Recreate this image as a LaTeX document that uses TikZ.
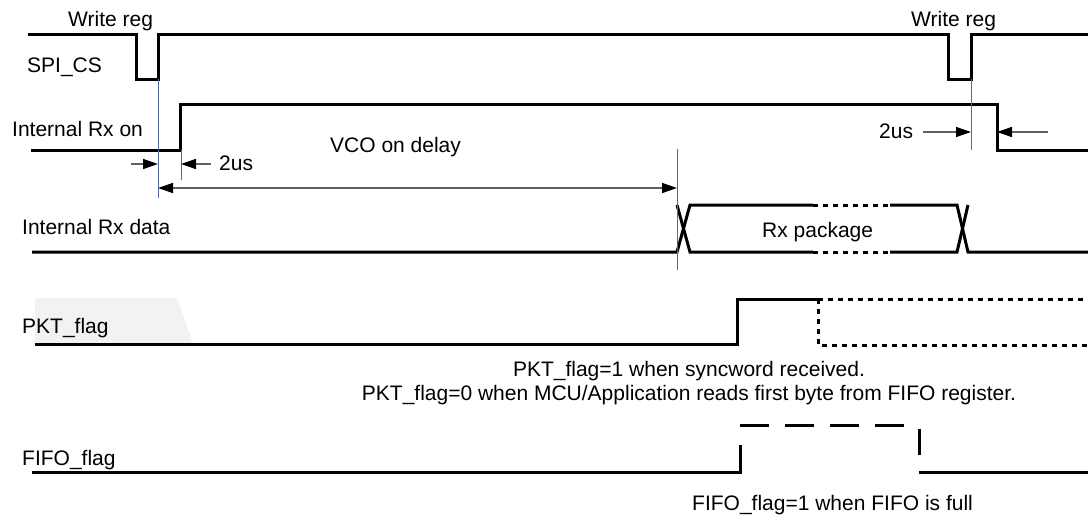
\documentclass[tikz,border=0pt]{standalone}
\usepackage{fontspec}
\setmainfont{Liberation Sans}
\usetikzlibrary{arrows.meta}
\definecolor{guideblue}{HTML}{4F6D9C}
\definecolor{dimgray}{HTML}{606060}
\definecolor{pktbg}{HTML}{F2F2F2}
\begin{document}
\begin{tikzpicture}[x=1pt,y=-1pt,
  wave/.style={line width=3pt, line cap=butt, line join=miter},
  dotwave/.style={wave, dash pattern=on 5pt off 5pt},
  longdash/.style={wave, dash pattern=on 29pt off 16pt},
  guide/.style={guideblue, line width=1pt},
  dimline/.style={dimgray, line width=1.5pt},
  tip/.style={-{Triangle[length=15pt,width=10pt,color=black]}},
  twotip/.style={{Triangle[length=15pt,width=10pt,color=black]}-{Triangle[length=15pt,width=10pt,color=black]}},
  lbl/.style={font=\fontsize{21}{25}\selectfont, inner sep=0pt, anchor=base west}
]
\useasboundingbox (0,0) rectangle (1088,520);

% shaded background behind PKT_flag
\fill[pktbg] (35,298) -- (177,298) -- (193,343) -- (35,343) -- cycle;

% SPI_CS
\draw[wave] (28,34) -- (136,34) -- (136,79) -- (158,79) -- (158,34) -- (948,34) -- (948,79) -- (971,79) -- (971,34) -- (1088,34);

% Internal Rx on
\draw[wave] (31,150) -- (180,150) -- (180,104) -- (997,104) -- (997,150) -- (1088,150);

% Internal Rx data
\draw[wave] (32,252) -- (677,252) -- (690,205) -- (813,205);
\draw[wave] (677,205) -- (690,252) -- (813,252);
\draw[dotwave] (813,205) -- (890,205);
\draw[dotwave] (813,252) -- (890,252);
\draw[wave] (890,205) -- (957,205) -- (968,252) -- (1088,252);
\draw[wave] (890,252) -- (957,252) -- (968,205);

% PKT_flag
\draw[wave] (35,344) -- (737,344) -- (737,299) -- (818,299);
\draw[dotwave] (818,299) -- (1088,299);
\draw[dotwave] (818,299) -- (818,345) -- (1088,345);

% FIFO_flag
\draw[wave] (32,472) -- (740,472) -- (740,445);
\draw[longdash] (740,425) -- (904,425);
\draw[wave] (919,429) -- (919,455);
\draw[wave] (919,472) -- (1088,472);

% guide lines
\coordinate (g1t) at (158,79);  \coordinate (g1b) at (158,198);
\coordinate (g2t) at (181,150); \coordinate (g2b) at (181,180);
\coordinate (g3t) at (677,149); \coordinate (g3b) at (677,270);
\coordinate (g4t) at (971,79);  \coordinate (g4b) at (971,150);
\draw[guide] (g1t) -- (g1b);
\draw[guide] (g2t) -- (g2b);
\draw[guide] (g3t) -- (g3b);
\draw[guide] (g4t) -- (g4b);

% dimension arrows
\coordinate (d1s) at (131,164);  \coordinate (d1e) at (158,164);
\coordinate (d2s) at (211,164);  \coordinate (d2e) at (181,164);
\coordinate (d3s) at (158,188);  \coordinate (d3e) at (677,188);
\coordinate (d4s) at (923,132);  \coordinate (d4e) at (971,132);
\coordinate (d5s) at (1048,132); \coordinate (d5e) at (997,132);
\draw[dimline,tip] (d1s) -- (d1e);
\draw[dimline,tip] (d2s) -- (d2e);
\draw[dimline,twotip] (d3s) -- (d3e);
\draw[dimline,tip] (d4s) -- (d4e);
\draw[dimline,tip] (d5s) -- (d5e);

% labels
\node[lbl] (wr1) at (68,26) {Write reg};
\node[lbl] (wr2) at (911,26) {Write reg};
\node[lbl] (spi) at (27,72) {SPI\_CS};
\node[lbl] (rxon) at (12,136) {Internal Rx on};
\node[lbl] (vco) at (330,152) {VCO on delay};
\node[lbl] (us1) at (219,170) {2us};
\node[lbl] (us2) at (879,138) {2us};
\node[lbl] (rxd) at (22,234) {Internal Rx data};
\node[lbl] (pkg) at (762,237) {Rx package};
\node[lbl] (pkt) at (22,333) {PKT\_flag};
\node[lbl,anchor=base] (n1) at (689,376) {PKT\_flag=1 when syncword received.};
\node[lbl,anchor=base] (n2) at (689,400) {PKT\_flag=0 when MCU/Application reads first byte from FIFO register.};
\node[lbl] (fifo) at (22,465) {FIFO\_flag};
\node[lbl] (n3) at (692,510) {FIFO\_flag=1 when FIFO is full};
\end{tikzpicture}
\end{document}
